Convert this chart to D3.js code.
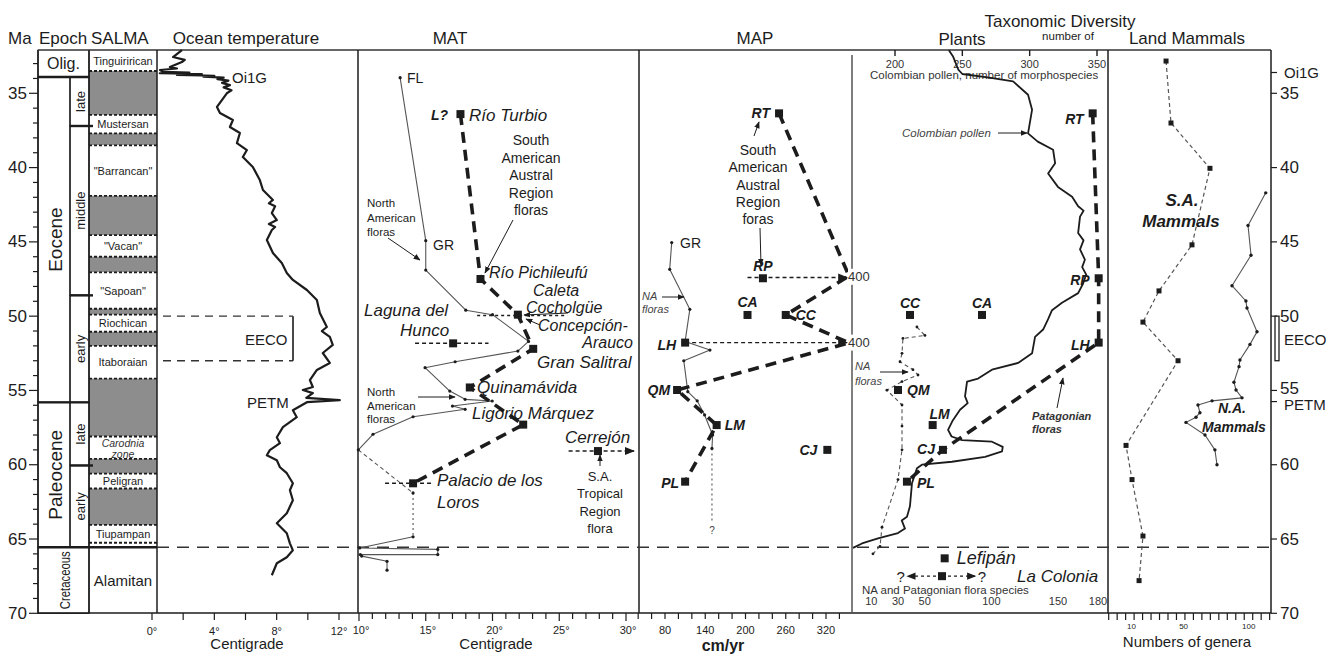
<!DOCTYPE html>
<html>
<head>
<meta charset="utf-8">
<script src="https://cdn.jsdelivr.net/npm/d3@7"></script>
<style>
  body { margin: 0; background: #fff; }
  svg text { font-family: Arial, "Liberation Sans", Helvetica, sans-serif; }
</style>
</head>
<body>
<svg id="chart" width="1333" height="659"></svg>
<script>
// ---------------- data ----------------
const maTicks = [35, 40, 45, 50, 55, 60, 65, 70];

// [name, top Ma, base Ma]
const epochs = [["Olig.", 32.1, 33.9], ["Eocene", 33.9, 55.8], ["Paleocene", 55.8, 65.55], ["Cretaceous", 65.55, 70]];
const subEpochs = [["late", 33.9, 37.2], ["middle", 37.2, 48.6], ["early", 48.6, 55.8], ["late", 55.8, 60.05], ["early", 60.05, 65.55]];

// SALMA bands: [label, top Ma, base Ma, grey]
const salma = [
  ["Tinguirirican", 32.1, 33.5, 0], ["", 33.5, 36.45, 1], ["Mustersan", 36.45, 37.7, 0], ["", 37.7, 38.5, 1],
  ["\"Barrancan\"", 38.5, 41.9, 0], ["", 41.9, 44.55, 1], ["\"Vacan\"", 44.55, 46.0, 0], ["", 46.0, 47.05, 1],
  ["\"Sapoan\"", 47.05, 49.5, 0], ["", 49.5, 49.9, 1], ["Riochican", 49.9, 51.05, 0], ["", 51.05, 52.0, 1],
  ["Itaboraian", 52.0, 54.2, 0], ["", 54.2, 58.1, 1], ["Carodnia|zone", 58.1, 59.6, 0], ["", 59.6, 60.6, 1],
  ["Peligran", 60.6, 61.6, 0], ["", 61.6, 64.05, 1], ["Tiupampan", 64.05, 65.25, 0], ["", 65.25, 65.55, 0],
  ["Alamitan", 65.55, 70, 0]
];

// ocean temperature [°C, Ma]
const oceanTemp = [
  [1.92, 32.09], [1.35, 32.56], [2.1, 32.75], [1.92, 32.9], [1.15, 33.23], [1.6, 33.33], [0.51, 33.43], [0.71, 33.55],
  [2.4, 33.6], [0.5, 33.65], [3.2, 33.7], [1.6, 33.76], [4.0, 33.82], [3.3, 33.88], [4.6, 33.95], [4.2, 34.05],
  [4.9, 34.15], [4.5, 34.3], [5.0, 34.45], [4.6, 34.6], [5.1, 34.8], [4.8, 35.0], [4.17, 35.92], [4.36, 36.33],
  [5.19, 36.8], [5.0, 37.27], [5.64, 37.67], [5.45, 38.35], [6.09, 38.82], [5.83, 39.29], [6.47, 39.96],
  [6.92, 40.84], [7.12, 41.51], [7.76, 42.18], [7.5, 42.4], [7.9, 42.6], [7.69, 43.06], [8.01, 43.53],
  [7.5, 43.8], [7.9, 44.0], [7.69, 44.2], [7.37, 44.87], [7.76, 45.75], [8.33, 46.42], [8.65, 47.09],
  [9.04, 47.56], [9.94, 48.24], [10.58, 48.91], [10.77, 49.78], [11.22, 50.73], [10.9, 51.0], [11.41, 51.4],
  [11.6, 51.94], [10.96, 52.48], [11.41, 53.15], [10.58, 53.62], [10.13, 54.3], [10.32, 54.77], [9.68, 54.97],
  [10.32, 55.18], [9.9, 55.5], [12.05, 55.65], [9.94, 55.79], [9.04, 56.33], [9.29, 56.8], [8.4, 57.47],
  [8.01, 58.15], [8.21, 58.55], [7.56, 59.02], [7.37, 59.36], [8.01, 59.7], [8.21, 60.17], [8.65, 60.57],
  [9.04, 61.25], [8.85, 61.72], [9.04, 62.39], [8.65, 63.27], [8.01, 63.94], [8.65, 64.61], [8.85, 65.29],
  [9.04, 65.76], [8.65, 66.23], [8.01, 66.63], [7.69, 67.44]
];

// MAT, North American floras [°C, Ma]
const matNA1 = [[13.08, 33.95], [15.0, 44.92], [15.0, 46.9], [18.0, 49.6], [20.0, 49.9], [22.7, 51.7], [21.9, 52.35],
  [17.2, 53.07], [14.95, 53.47], [16.8, 55.04], [17.95, 55.6], [19.98, 55.71], [17.0, 56.05], [17.95, 56.27],
  [14.05, 56.77], [11.05, 57.95], [9.95, 59.0]];
const matNAdash = [[9.95, 59.0], [14.05, 61.9]];
const matNAdot = [[14.05, 61.9], [14.05, 64.85]];
const matNA2 = [[14.05, 64.85], [10.05, 65.6], [15.9, 65.7], [15.9, 66.05], [10.1, 66.05], [10.2, 66.15], [12.1, 66.5], [12.1, 67.1]];
// MAT, South American floras [°C, Ma]
const matSA = [[17.6, 36.4], [19.1, 47.5], [21.9, 49.9], [23.05, 52.2], [18.3, 54.8], [22.3, 57.3], [14.05, 61.25]];
const matHunco = [17.05, 51.83], matHuncoRange = [14.2, 19.7];
const matLoros = [14.05, 61.25], matLorosRange = [11.95, 15.55];
const matCerrejon = [27.9, 59.08], matCerrejonRange = [25.7, 30.6];
const matCaletaRange = [18.85, 25.6];

// MAP [cm/yr, Ma]
const mapNA = [[90, 45.05], [87, 46.85], [117, 49.54], [110, 51.7], [147, 52.28], [108, 53.0], [114, 55.08],
  [128, 55.7], [139, 56.65], [151, 58.0], [150, 58.9]];
const mapNAdot = [[150, 58.9], [150, 63.9]];
const mapSA = [[250, 36.35], [400, 47.3], [260, 49.92], [400, 51.8], [98, 54.97], [157, 57.33], [110, 61.14]];
const mapSites = [["RT", 250, 36.35], ["RP", 226, 47.45], ["CA", 203, 49.92], ["CC", 260, 49.92], ["LH", 110, 51.78],
  ["QM", 98, 54.97], ["LM", 157, 57.33], ["PL", 110, 61.14], ["CJ", 322, 59.0]];
const mapRanges = [[203, 400, 47.4], [110, 400, 51.78]];

// Plants: Colombian pollen [morphospecies, Ma]
const pollen = [[240, 32.1], [243, 32.5], [247, 33.4], [250, 33.7], [270, 33.95], [287.7, 34.2], [298.8, 35.1],
  [301.8, 36.1], [298.8, 37.7], [306, 38.25], [317.4, 38.8], [318.9, 39.7], [313.7, 40.4], [321, 41.3],
  [331.5, 41.96], [336, 42.6], [340, 42.9], [337.4, 43.3], [336, 44.4], [340, 44.9], [337.4, 45.5], [341, 46.2],
  [339, 46.7], [342, 47.2], [339.7, 47.8], [336, 48.45], [324, 49.1], [316.6, 49.6], [313.7, 50.2], [310, 50.9],
  [304, 51.4], [301.8, 52.5], [291.4, 53.15], [272, 53.6], [261.7, 54.2], [253.5, 54.4], [252, 55.4], [254, 55.85],
  [248.3, 56.3], [243, 57.0], [239.4, 57.65], [242, 58.1], [249.8, 58.35], [272, 58.45], [280, 58.8], [279.5, 59.1],
  [266.9, 59.47], [242.3, 59.8], [220, 60.0], [216.3, 60.24], [212.6, 61.25], [211.1, 62.8], [208.9, 63.5],
  [205, 63.75], [207.4, 64.3], [202.2, 64.6], [187.4, 64.95], [175.5, 65.3], [168.8, 65.6]];
// Plants: NA and Patagonian flora species [species, Ma]
const plantNA = [[44.2, 50.73], [50.2, 51.3], [33.7, 51.5], [33, 52.5], [31.5, 53.07], [41.2, 53.6], [45, 53.96],
  [33, 54.4], [21.7, 54.98], [33, 55.98], [33, 57.4], [33, 59.0], [30, 61.0], [18, 64.2], [16.5, 65.5], [11.2, 66.0]];
const plantSA = [[176, 36.35], [180.5, 47.45], [180.5, 51.78], [63.7, 59.0], [36.7, 61.14]];
const plantSites = [["RT", 176, 36.35], ["RP", 180.5, 47.45], ["LH", 180.5, 51.78], ["CC", 39, 49.92], ["CA", 93, 49.92],
  ["QM", 30, 54.97], ["LM", 56, 57.33], ["CJ", 63.7, 59.0], ["PL", 36.7, 61.14], ["Lefipán", 65, 66.3], ["La Colonia", 63, 67.5]];
const pollenTicks = [200, 250, 300, 350];
const floraTicks = [10, 30, 50, 100, 150, 180];

// Land mammals [genera, Ma]
const mammalsSA = [[36.5, 32.83], [40.3, 37.0], [70.2, 40.05], [56.4, 45.2], [31.1, 48.3], [18.8, 50.4], [45.7, 53.0],
  [5.8, 58.7], [10.4, 61.0], [18.8, 64.8], [15.8, 67.8]];
const mammalsNA = [[113, 41.7], [99.4, 43.9], [101.7, 45.9], [87.1, 47.95], [97.8, 48.98], [98.6, 49.45], [106.3, 51.05],
  [100.9, 51.9], [93.2, 52.95], [92.5, 53.4], [88.6, 54.45], [90.2, 54.97], [94.8, 55.5], [71.8, 55.7], [61, 55.98],
  [62.5, 56.5], [59.5, 56.8], [51.8, 57.15], [66.4, 58.0], [74, 59.0], [75.6, 60.0]];
const generaLabels = [10, 50, 100];

// ---------------- layout ----------------
const svg = d3.select("#chart");
const INK = "#1c1c1c", GREY = "#555";
const TOP = 50, BOT = 613;
const X = { ma: 38, epoch: 70, sub: 89, salma: 157, ocean: 358, mat: 639, map: 852, plants: 1108, mam: 1271 };

const y = d3.scaleLinear().domain([35, 70]).range([93.3, 613.3]);
const xOcean = d3.scaleLinear().domain([0, 12]).range([152, 339]);
const xMat = d3.scaleLinear().domain([10, 30]).range([359, 626]);
const xMapAxis = d3.scaleLinear().domain([80, 320]).range([665, 826]);
// same mapping, values off the scale (400) are pinned to the panel edge
const xMap = d3.scaleLinear().domain([xMapAxis.invert(X.mat), xMapAxis.invert(849)]).range([X.mat, 849]).clamp(true);
const xPollen = d3.scaleLinear().domain([200, 350]).range([895, 1097]);
const xFlora = d3.scaleLinear().domain([0, 180]).range([858, 1098]);
const xGen = d3.scaleLinear().domain([10, 100]).range([1131.5, 1248.8]);

const defs = svg.append("defs");
defs.append("marker").attr("id", "arr").attr("viewBox", "0 0 10 10").attr("refX", 9).attr("refY", 5)
  .attr("markerWidth", 7).attr("markerHeight", 7).attr("orient", "auto")
  .append("path").attr("d", "M0,1L10,5L0,9z").attr("fill", INK);

function text(x, yy, s, o = {}) {
  return svg.append("text").attr("x", x).attr("y", yy).text(s)
    .attr("font-size", o.size || 12)
    .attr("font-style", o.italic ? "italic" : null)
    .attr("font-weight", o.bold ? "bold" : null)
    .attr("text-anchor", o.anchor || "start")
    .attr("dominant-baseline", "central")
    .attr("fill", o.color || INK);
}
function line(x1, y1, x2, y2, o = {}) {
  return svg.append("line").attr("x1", x1).attr("y1", y1).attr("x2", x2).attr("y2", y2)
    .attr("stroke", o.color || INK).attr("stroke-width", o.w || 1)
    .attr("stroke-dasharray", o.dash || null)
    .attr("marker-end", o.arrow ? "url(#arr)" : null);
}
function path(data, sx, o = {}) {
  return svg.append("path").datum(data)
    .attr("d", d3.line().x(d => sx(d[0])).y(d => y(d[1])))
    .attr("fill", "none").attr("stroke", o.color || INK).attr("stroke-width", o.w || 1)
    .attr("stroke-dasharray", o.dash || null).attr("stroke-linejoin", "round");
}
function squares(data, sx, size = 8) {
  svg.append("g").selectAll("rect").data(data).join("rect")
    .attr("x", d => sx(d[0]) - size / 2).attr("y", d => y(d[1]) - size / 2)
    .attr("width", size).attr("height", size).attr("fill", INK);
}
function dots(data, sx, r = 1.6) {
  svg.append("g").selectAll("circle").data(data).join("circle")
    .attr("cx", d => sx(d[0])).attr("cy", d => y(d[1])).attr("r", r).attr("fill", INK);
}

// ---------------- headers ----------------
text(8, 38, "Ma", { size: 17 });
text(39, 38, "Epoch", { size: 17 });
text(91, 38, "SALMA", { size: 17 });
text(246, 38, "Ocean temperature", { size: 17, anchor: "middle" });
text(450, 38, "MAT", { size: 17, anchor: "middle" });
text(755, 38, "MAP", { size: 17, anchor: "middle" });
text(962, 39, "Plants", { size: 17, anchor: "middle" });
text(1060, 21, "Taxonomic Diversity", { size: 17, anchor: "middle" });
text(1068, 36, "number of", { size: 11.5, anchor: "middle" });
text(1187, 38, "Land Mammals", { size: 17, anchor: "middle" });

// ---------------- time scale columns ----------------
const ts = svg.append("g");
ts.selectAll("rect.salma").data(salma).join("rect")
  .attr("x", X.sub).attr("width", X.salma - X.sub)
  .attr("y", d => y(d[1])).attr("height", d => y(d[2]) - y(d[1]))
  .attr("fill", d => d[3] ? "#8d8d8d" : "#fff");
salma.slice(1).forEach(d => {
  if (d[1] !== 65.55) line(X.sub, y(d[1]), X.salma, y(d[1]), { w: 1.8, dash: "3,2" });
});
salma.filter(d => d[0]).forEach(d => {
  const cy = (y(d[1]) + y(d[2])) / 2;
  if (d[0].includes("|")) {
    const [a, b] = d[0].split("|");
    text(123, cy - 5, a, { size: 10.5, italic: true, anchor: "middle", color: "#333" });
    text(123, cy + 6, b, { size: 10.5, italic: true, anchor: "middle", color: "#333" });
  } else {
    text(123, cy, d[0], { size: d[0] === "Alamitan" ? 15 : 11, anchor: "middle" });
  }
});

epochs.forEach(d => {
  const wide = d[0] === "Olig." || d[0] === "Cretaceous";
  const x2 = wide ? X.sub : X.epoch;
  ts.append("rect").attr("x", X.ma).attr("y", y(d[1])).attr("width", x2 - X.ma).attr("height", y(d[2]) - y(d[1]))
    .attr("fill", "none").attr("stroke", INK).attr("stroke-width", 1.2);
  const cx = (X.ma + x2) / 2, cy = (y(d[1]) + y(d[2])) / 2;
  if (d[0] === "Olig.") text(cx, cy, d[0], { size: 16, anchor: "middle" });
  else {
    const t = text(0, 0, d[0], { size: d[0] === "Cretaceous" ? 14 : 19, anchor: "middle" })
      .attr("transform", `translate(${d[0] === "Cretaceous" ? 65 : 55},${cy}) rotate(-90)`);
    if (d[0] === "Cretaceous") t.attr("textLength", 58).attr("lengthAdjust", "spacingAndGlyphs");
  }
});
subEpochs.forEach(d => {
  ts.append("rect").attr("x", X.epoch).attr("y", y(d[1])).attr("width", X.sub - X.epoch).attr("height", y(d[2]) - y(d[1]))
    .attr("fill", "none").attr("stroke", INK).attr("stroke-width", 1.2);
  text(0, 0, d[0], { size: 13, anchor: "middle" })
    .attr("transform", `translate(80,${(y(d[1]) + y(d[2])) / 2}) rotate(-90)`);
});
// heavier boundaries
[33.9, 55.8, 65.55].forEach(m => line(X.ma, y(m), m === 65.55 ? X.salma : X.sub, y(m), { w: 2.4 }));
[37.2, 48.6, 60.05].forEach(m => line(X.epoch, y(m), X.sub + 4, y(m), { w: 2.4 }));

// ---------------- frame ----------------
line(X.ma, TOP, X.mam, TOP, { w: 2, color: "#666" });
line(X.ma, BOT, X.mam, BOT, { w: 1.6 });
[X.ma, X.sub, X.salma, X.ocean, X.mat, X.plants, X.mam].forEach(x => line(x, TOP, x, BOT, { w: 1.5 }));
line(X.map, TOP + 5, X.map, BOT, { w: 1.5, color: "#555" });

// left Ma axis
d3.range(33, 70).forEach(m => line(maTicks.includes(m) ? 29 : 33, y(m), X.ma, y(m), { w: 1.2 }));
line(29, y(70), X.ma, y(70), { w: 1.2 });
maTicks.forEach(m => text(27, y(m), m, { size: 17, anchor: "end" }));

// right Ma axis
maTicks.forEach(m => {
  line(X.mam, y(m), X.mam + 6, y(m), { w: 1.2 });
  text(X.mam + 9, y(m) + (m === 55 ? -2 : 0), m, { size: 17 });
});
line(X.mam, y(33.6), X.mam + 6, y(33.6), { w: 1.2 });
text(X.mam + 13, y(33.6), "Oi1G", { size: 15 });
line(X.mam, y(55.75), X.mam + 6, y(55.75), { w: 1.2 });
text(X.mam + 13, y(55.75) + 3, "PETM", { size: 15 });
svg.append("rect").attr("x", X.mam + 4).attr("y", y(50)).attr("width", 4).attr("height", y(53) - y(50))
  .attr("fill", "#fff").attr("stroke", INK).attr("stroke-width", 1.3);
text(X.mam + 13, y(51.6), "EECO", { size: 15 });

// ---------------- bottom axes ----------------
d3.range(0, 13, 2).forEach(v => line(xOcean(v), BOT, xOcean(v), BOT + 7, { w: 1.2 }));
[0, 4, 8, 12].forEach(v => text(xOcean(v), 631, v + "°", { size: 11, anchor: "middle" }));
text(247, 643, "Centigrade", { size: 15, anchor: "middle" });

d3.range(10, 31).forEach(v => line(xMat(v), BOT, xMat(v), BOT + (v % 5 ? 6 : 8), { w: 1.2 }));
[10, 15, 20, 25, 30].forEach(v => text(xMat(v) + 2, 630, v + "°", { size: 11, anchor: "middle" }));
text(496, 643, "Centigrade", { size: 15, anchor: "middle" });

d3.range(40, 341, 20).forEach(v => line(xMapAxis(v), BOT, xMapAxis(v), BOT + 6, { w: 1.2 }));
[80, 140, 200, 260, 320].forEach(v => text(xMapAxis(v), 630, v, { size: 11, anchor: "middle" }));
text(723, 645, "cm/yr", { size: 16, bold: true, anchor: "middle" });

d3.range(-7.5, 117, 6.5).forEach(v => line(xGen(v), BOT, xGen(v), BOT + 7, { w: 1.2 }));
generaLabels.forEach(v => text(xGen(v), 626, v, { size: 8, anchor: "middle" }));
text(1187, 641, "Numbers of genera", { size: 15, anchor: "middle" });

// plants axes
pollenTicks.forEach(v => {
  line(xPollen(v), TOP, xPollen(v), TOP + 6, { w: 1.4 });
  text(xPollen(v), 64, v, { size: 11, anchor: "middle", color: "#333" });
});
text(870, 75, "Colombian pollen, number of morphospecies", { size: 11.5, color: "#333" });
floraTicks.forEach(v => text(xFlora(v), 601, v, { size: 11, anchor: "middle", color: "#333" }));
text(862, 590, "NA and Patagonian flora species", { size: 11.5, color: "#333" });

// ---------------- event lines ----------------
line(X.salma, y(65.55), X.mam, y(65.55), { w: 1.6, dash: "12,8", color: "#333" });
line(163, y(50), 293, y(50), { w: 1.4, dash: "8,6", color: "#333" });
line(163, y(53), 293, y(53), { w: 1.4, dash: "8,6", color: "#333" });
line(293, y(50), 293, y(53), { w: 1.6 });
text(245, y(51.6), "EECO", { size: 15 });

// ---------------- ocean temperature ----------------
path(oceanTemp, xOcean, { w: 2.2 });
text(232, 77, "Oi1G", { size: 15 });
text(247, 402, "PETM", { size: 15 });

// ---------------- MAT ----------------
path(matNA1, xMat, { color: GREY, w: 1.1 });
path(matNAdash, xMat, { color: GREY, w: 1.1, dash: "4,3" });
path(matNAdot, xMat, { color: GREY, w: 1.1, dash: "2,3" });
path(matNA2, xMat, { color: GREY, w: 1.1 });
dots(matNA1.concat(matNA2, [matNAdash[1]]), xMat);
path(matSA, xMat, { w: 3.6, dash: "11,7" });
line(xMat(matHuncoRange[0]), y(matHunco[1]), xMat(matHuncoRange[1]), y(matHunco[1]), { w: 1.5, dash: "4,3" });
line(xMat(matLorosRange[0]), y(matLoros[1]), xMat(matLorosRange[1]), y(matLoros[1]), { w: 1.5, dash: "4,3" });
line(xMat(matCerrejonRange[0]), y(matCerrejon[1]), xMat(matCerrejonRange[1]), y(matCerrejon[1]), { w: 1.5, dash: "4,3", arrow: true });
line(xMat(matCaletaRange[0]), y(49.95), xMat(matCaletaRange[1]), y(49.95), { w: 1.5, dash: "3,3" });
squares(matSA.concat([matHunco, matCerrejon]), xMat);

text(407, 78, "FL", { size: 14 });
text(431, 115, "L?", { size: 14, bold: true, italic: true });
text(469, 115, "Río Turbio", { size: 17, italic: true });
["South", "American", "Austral", "Region", "floras"].forEach((s, i) => text(531, 140 + i * 17.5, s, { size: 14, anchor: "middle" }));
line(513, 220, 485, 273, { arrow: true });
["North", "American", "floras"].forEach((s, i) => text(367, 203 + i * 14.5, s, { size: 11.5 }));
line(388, 238, 420, 260, { arrow: true });
text(433, 245, "GR", { size: 14 });
text(489, 272, "Río Pichileufú", { size: 16, italic: true });
text(533, 290, "Caleta", { size: 16, italic: true });
text(526, 307, "Cocholgüe", { size: 16, italic: true });
line(568, 313, 524, 315, { arrow: true });
text(364, 310, "Laguna del", { size: 17, italic: true });
text(400, 330, "Hunco", { size: 17, italic: true });
text(538, 325, "Concepción-", { size: 16, italic: true });
line(540, 325, 526, 319, { arrow: true });
text(633, 342, "Arauco", { size: 16, italic: true, anchor: "end" });
text(537, 362, "Gran Salitral", { size: 17, italic: true });
text(477, 387, "Quinamávida", { size: 17, italic: true });
["North", "American", "floras"].forEach((s, i) => text(367, 392 + i * 13.5, s, { size: 11.5 }));
line(418, 397, 455, 397, { arrow: true });
text(472, 413, "Ligorio Márquez", { size: 17, italic: true });
text(565, 437, "Cerrejón", { size: 17, italic: true });
line(600, 466, 600, 455, { arrow: true });
["S.A.", "Tropical", "Region", "flora"].forEach((s, i) => text(600, 476 + i * 17.5, s, { size: 13, anchor: "middle" }));
text(437, 480, "Palacio de los", { size: 17, italic: true });
text(437, 502, "Loros", { size: 17, italic: true });

// ---------------- MAP ----------------
path(mapNA, xMap, { color: GREY, w: 1.1 });
path(mapNAdot, xMap, { color: GREY, w: 1.1, dash: "2,3" });
dots(mapNA, xMap);
text(xMap(150), y(64.4), "?", { size: 10, anchor: "middle", color: "#444" });
path(mapSA, xMap, { w: 3.6, dash: "11,7" });
mapRanges.forEach(r => line(xMap(r[0]), y(r[2]), xMap(r[1]) - 2, y(r[2]), { w: 1.4, dash: "4,3", arrow: true }));
squares(mapSites.map(d => [d[1], d[2]]), xMap);
[51.78, 47.35].forEach(m => {
  svg.append("rect").attr("x", X.map - 4).attr("y", y(m) - 8).attr("width", 24).attr("height", 16).attr("fill", "#fff");
  text(X.map - 4, y(m), "400", { size: 13, color: "#333" });
});
const mapLab = { RT: [-9, 0, "end"], RP: [0, -12, "middle"], CA: [0, -13, "middle"], CC: [10, 0, "start"], LH: [-9, 2, "end"],
  QM: [-7, 0, "end"], LM: [8, 0, "start"], PL: [-6, 1, "end"], CJ: [-10, 0, "end"] };
mapSites.forEach(d => {
  const o = mapLab[d[0]];
  text(xMap(d[1]) + o[0], y(d[2]) + o[1], d[0], { size: 14, bold: true, italic: true, anchor: o[2] });
});
text(680, 243, "GR", { size: 14 });
text(642, 296, "NA", { size: 11, italic: true, color: "#444" });
text(642, 309, "floras", { size: 11, italic: true, color: "#444" });
line(662, 297, 684, 297, { arrow: true });
["South", "American", "Austral", "Region", "foras"].forEach((s, i) => text(758, 150 + i * 17.3, s, { size: 14, anchor: "middle" }));
line(754, 136, 759, 122, { arrow: true });
line(760, 228, 761, 265, { arrow: true });

// ---------------- Plants ----------------
path(pollen, xPollen, { w: 1.8 });
path(plantNA, xFlora, { color: GREY, w: 1.1, dash: "4,3" });
dots(plantNA, xFlora, 1.4);
path(plantSA, xFlora, { w: 3.6, dash: "11,7" });
squares(plantSites.map(d => [d[1], d[2]]), xFlora);
const plantLab = { RT: [-9, 6, "end", 14], RP: [-9, 2, "end", 14], LH: [-9, 2, "end", 14], CC: [0, -12, "middle", 14],
  CA: [0, -12, "middle", 14], QM: [9, 0, "start", 14], LM: [7, -11, "middle", 14], CJ: [-8, -1, "end", 14],
  PL: [10, 1, "start", 14], "Lefipán": [12, 0, "start", 18], "La Colonia": [75, 0, "start", 17] };
plantSites.forEach(d => {
  const o = plantLab[d[0]];
  const bold = o[3] === 14;
  text(xFlora(d[1]) + o[0], y(d[2]) + o[1], d[0], { size: o[3], bold: bold, italic: true, anchor: o[2] });
});
line(xFlora(63) - 6, y(67.5), xFlora(37), y(67.5), { w: 1.3, dash: "3,3", arrow: true });
line(xFlora(63) + 6, y(67.5), xFlora(88), y(67.5), { w: 1.3, dash: "3,3", arrow: true });
text(xFlora(32), y(67.5), "?", { size: 15, anchor: "middle" });
text(xFlora(93), y(67.5), "?", { size: 15, anchor: "middle" });
text(902, 133, "Colombian pollen", { size: 11.5, italic: true, color: "#444" });
line(998, 133, 1027, 133, { arrow: true });
text(855, 366, "NA", { size: 11, italic: true, color: "#444" });
text(855, 381, "floras", { size: 11, italic: true, color: "#444" });
line(880, 372, 908, 372, { arrow: true });
text(1032, 416, "Patagonian", { size: 11, bold: true, italic: true, color: "#333" });
text(1032, 429, "floras", { size: 11, bold: true, italic: true, color: "#333" });
line(1057, 408, 1063, 378, { arrow: true });

// ---------------- Land mammals ----------------
path(mammalsSA, xGen, { color: GREY, w: 1.2, dash: "4,3" });
squares(mammalsSA, xGen, 5);
path(mammalsNA, xGen, { color: GREY, w: 1.1 });
dots(mammalsNA, xGen, 1.7);
text(1182, 200, "S.A.", { size: 17, bold: true, italic: true, anchor: "middle" });
text(1181, 221, "Mammals", { size: 17, bold: true, italic: true, anchor: "middle" });
text(1232, 408, "N.A.", { size: 14, bold: true, italic: true, anchor: "middle" });
text(1234, 427, "Mammals", { size: 14, bold: true, italic: true, anchor: "middle" });
</script>
</body>
</html>
